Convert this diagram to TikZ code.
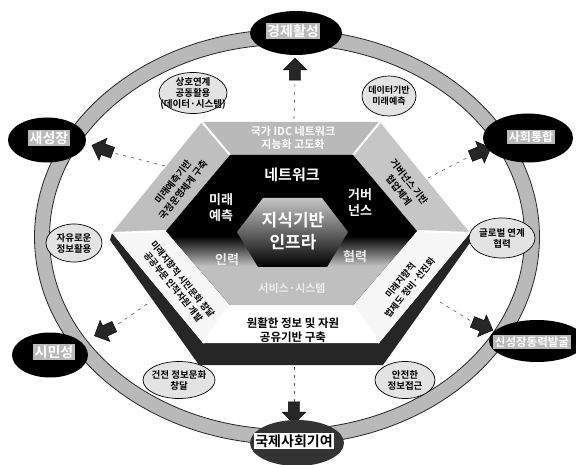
\documentclass[tikz,border=0pt]{standalone}
\usepackage{fontspec}
\setmainfont{Noto Sans CJK KR}[BoldFont={Noto Sans CJK KR Bold}]
\usetikzlibrary{shapes.geometric,shapes.arrows,calc}
\tikzset{
 bigoval/.style={ellipse, fill=black, inner sep=0pt},
 bigtxt/.style={fill=gray!55, text=white, inner sep=1.5pt, font=\bfseries\fontsize{14}{14}\selectfont},
 smalloval/.style={ellipse, draw=black, line width=0.7pt, fill=gray!22, inner sep=0pt},
 smalltxt/.style={align=center, inner sep=0pt, font=\bfseries\fontsize{9.5}{11}\selectfont},
 bandtxt/.style={align=center, inner sep=0pt, font=\bfseries\fontsize{9.5}{13}\selectfont},
 hextxt/.style={align=center, inner sep=0pt, text=white, font=\bfseries\fontsize{13}{16}\selectfont},
 blockarrow/.style={single arrow, fill=black!85, draw=black, minimum height=22pt, inner sep=5.5pt, single arrow head extend=6pt},
 dashline/.style={line width=0.6pt, black!70, dash pattern=on 3pt off 5pt},
}
\begin{document}
\begin{tikzpicture}[x=1pt,y=-1pt]
\useasboundingbox (0,0) rectangle (576,465);
% ring
\coordinate (rc) at (287,237);
\draw[line width=15pt, gray!55] (rc) ellipse [x radius=245, y radius=200];
\draw[line width=0.8pt, gray!30!black] (rc) ellipse [x radius=252.5, y radius=207.5];
\draw[line width=0.8pt, gray!30!black] (rc) ellipse [x radius=237.5, y radius=192.5];
% hexagon coordinates
\coordinate (oTL) at (202,122); \coordinate (oTR) at (380,122);
\coordinate (oR) at (470,233); \coordinate (oBR) at (379,343);
\coordinate (oBL) at (203,343); \coordinate (oL) at (112,233);
\coordinate (mTL) at (230,155); \coordinate (mTR) at (353,155);
\coordinate (mR) at (417,231); \coordinate (mBR) at (353,305);
\coordinate (mBL) at (230,305); \coordinate (mL) at (166,231);
\coordinate (iTL) at (263,198); \coordinate (iTR) at (322,198);
\coordinate (iR) at (348,232); \coordinate (iBR) at (327,267);
\coordinate (iBL) at (258,267); \coordinate (iL) at (237,232);
% 3D side
\fill[black!85] (oL) -- (oBL) -- (oBR) -- (oR) -- (472,240) -- (383,365) -- (199,365) -- (110,240) -- cycle;
% bands
\fill[gray!55] (oTL) -- (oTR) -- (mTR) -- (mTL) -- cycle;
\fill[gray!50] (oTL) -- (mTL) -- (mL) -- (oL) -- cycle;
\fill[gray!45] (oTR) -- (oR) -- (mR) -- (mTR) -- cycle;
\fill[gray!6] (oL) -- (mL) -- (mBL) -- (oBL) -- cycle;
\fill[gray!6] (oR) -- (mR) -- (mBR) -- (oBR) -- cycle;
\fill[white] (oBL) -- (mBL) -- (mBR) -- (oBR) -- cycle;
\foreach \a in {TL,TR,R,BR,BL,L} \draw[white, line width=2pt] (o\a) -- (m\a);
% middle hexagon
\fill[black] (mTL) -- (mTR) -- (mR) -- (mBR) -- (mBL) -- (mL) -- cycle;
\begin{scope}
\clip (mTL) -- (mTR) -- (mR) -- (mBR) -- (mBL) -- (mL) -- cycle;
\shade[top color=black, bottom color=gray!50] (150,236) rectangle (430,266);
\fill[gray!50] (150,266) rectangle (430,310);
\end{scope}
% inner hexagon
\shade[top color=gray!45, bottom color=black] (iTL) -- (iTR) -- (iR) -- (iBR) -- (iBL) -- (iL) -- cycle;
% hexagon texts
\node[hextxt, font=\bfseries\fontsize{15}{15}\selectfont] (n1) at (292,175) {네트워크};
\node[hextxt] (n2) at (221,208) {미래\\예측};
\node[hextxt] (n3) at (360,203) {거버\\넌스};
\node[hextxt, font=\bfseries\fontsize{17}{22}\selectfont] (n4) at (293,231) {지식기반\\인프라};
\node[hextxt, text=gray!15] (n5) at (227,260) {인력};
\node[hextxt, text=gray!15] (n6) at (355,257) {협력};
\node[hextxt, text=gray!15, font=\bfseries\fontsize{11}{13}\selectfont] (n7) at (292,288) {서비스·시스템};
% band texts
\node[bandtxt, text=white, font=\bfseries\fontsize{11}{13.5}\selectfont] (b1) at (293,138) {국가 IDC 네트워크\\지능화 고도화};
\node[bandtxt, rotate=52] (b2) at (178,186) {미래예측기반\\국정운영체계 구축};
\node[bandtxt, rotate=-52] (b3) at (404,186) {거버넌스 기반\\협업체계};
\node[bandtxt, rotate=-51, font=\bfseries\fontsize{9}{12}\selectfont] (b4) at (178,283) {미래지향적 시민문화 창달\\공공부문 인적자원 개발};
\node[bandtxt, rotate=51, font=\bfseries\fontsize{9}{12}\selectfont] (b5) at (405,284) {미래지향적\\법제도 정비·선진화};
\node[bandtxt, font=\bfseries\fontsize{11.5}{14.5}\selectfont] (b6) at (293,330) {원활한 정보 및 자원\\공유기반 구축};
% small ellipses
\node[smalloval, minimum width=68pt, minimum height=41pt] (s1) at (193,93) {};
\node[smalltxt] (s1t) at (s1) {상호연계\\공동활용\\(데이터·시스템)};
\node[smalloval, minimum width=54pt, minimum height=40pt] (s2) at (389,96) {};
\node[smalltxt, font=\bfseries\fontsize{9}{11}\selectfont] (s2t) at (s2) {데이터기반\\미래예측};
\node[smalloval, minimum width=66pt, minimum height=40pt] (s3) at (502,238) {};
\node[smalltxt] (s3t) at (s3) {글로벌 연계\\협력};
\node[smalloval, minimum width=56pt, minimum height=38pt] (s4) at (74,243) {};
\node[smalltxt] (s4t) at (s4) {자유로운\\정보활용};
\node[smalloval, minimum width=72pt, minimum height=37pt] (s5) at (179,380) {};
\node[smalltxt] (s5t) at (s5) {건전 정보문화\\창달};
\node[smalloval, minimum width=60pt, minimum height=37pt] (s6) at (405,380) {};
\node[smalltxt] (s6t) at (s6) {안전한\\정보접근};
% arrows and dashed lines
\node[blockarrow, rotate=90] (a1) at (295,72) {};
\node[blockarrow, rotate=160] (a2) at (105,150) {};
\node[blockarrow, rotate=22] (a3) at (478,153) {};
\node[blockarrow, rotate=-155] (a4) at (107,330) {};
\node[blockarrow, rotate=-22] (a5) at (480,325) {};
\node[blockarrow, rotate=-90] (a6) at (294,410) {};
\coordinate (d1) at (294,119);
\coordinate (d2) at (165,166);
\coordinate (d3) at (428,178);
\coordinate (d4) at (147,304);
\coordinate (d5) at (440,302);
\coordinate (d6) at (294,367);
\draw[dashline] (d1) -- (a1.tail);
\draw[dashline] (d2) -- (a2.tail);
\draw[dashline] (d3) -- (a3.tail);
\draw[dashline] (d4) -- (a4.tail);
\draw[dashline] (d5) -- (a5.tail);
\draw[dashline] (d6) -- (a6.tail);
% outer ellipses
\node[bigoval, minimum width=92pt, minimum height=44pt] (o1) at (296,33) {};
\node[bigtxt] (o1t) at (293,31) {경제활성};
\node[bigoval, minimum width=78pt, minimum height=45pt] (o2) at (47,140) {};
\node[bigtxt] (o2t) at (49,138) {새성장};
\node[bigoval, minimum width=90pt, minimum height=49pt] (o3) at (528,138) {};
\node[bigtxt, font=\bfseries\fontsize{12}{12}\selectfont] (o3t) at (531,137) {사회통합};
\node[bigoval, minimum width=76pt, minimum height=45pt] (o4) at (50,355) {};
\node[bigtxt] (o4t) at (54,352) {시민성};
\node[bigoval, minimum width=96pt, minimum height=42pt] (o5) at (537,341) {};
\node[bigtxt, font=\bfseries\fontsize{11.5}{11.5}\selectfont] (o5t) at (532,342) {신성장동력발굴};
\node[bigoval, fill=gray!40!black, minimum width=94pt, minimum height=46pt] (o6) at (297,443) {};
\node[bigtxt, fill=white, text=black] (o6t) at (294,441) {국제사회기여};
\end{tikzpicture}
\end{document}
